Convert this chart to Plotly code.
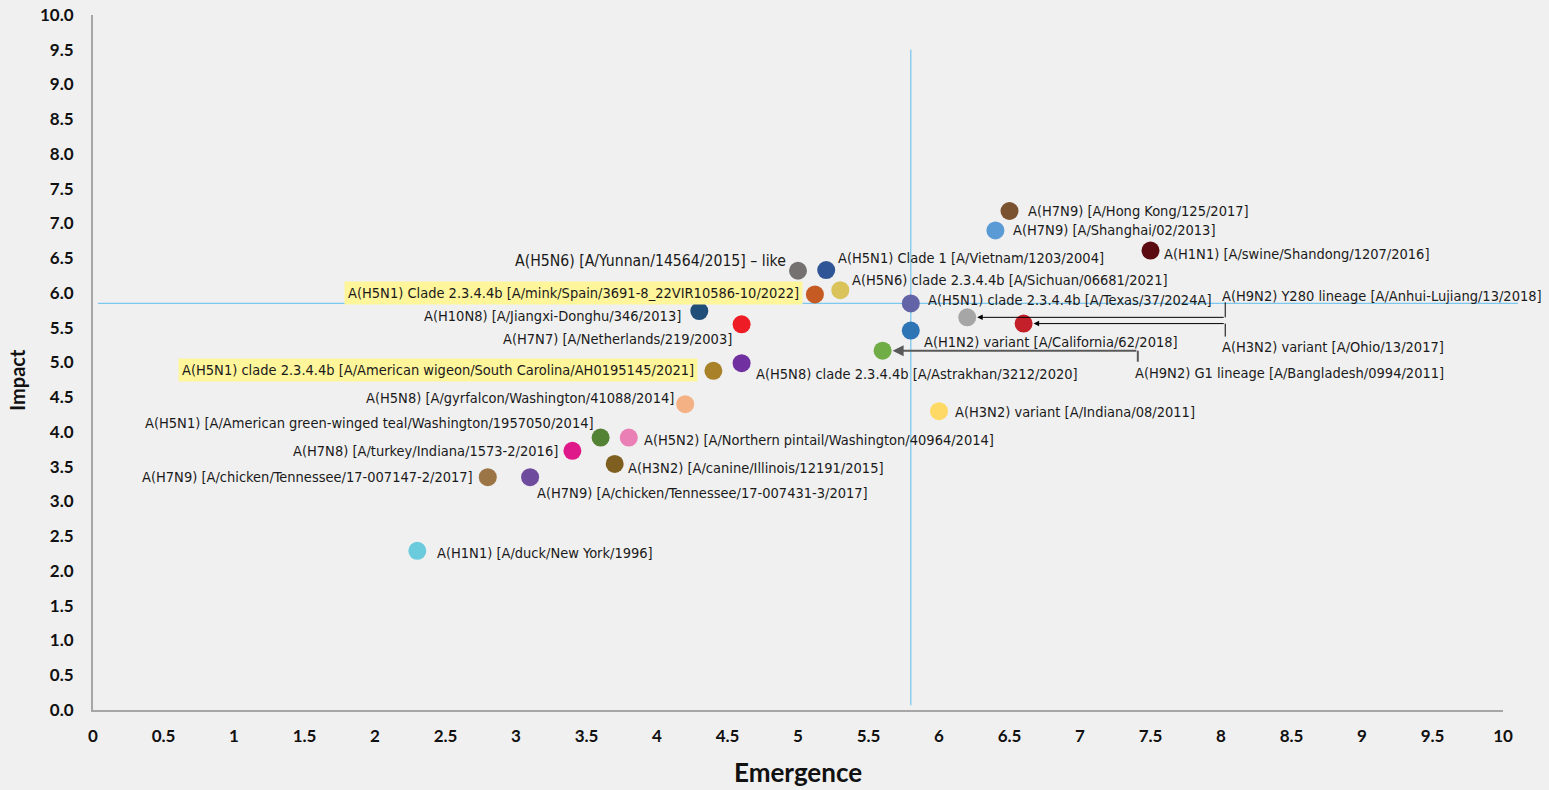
import plotly.graph_objects as go

# ---------------- data ----------------
strains = [
    "A(H7N9) [A/Hong Kong/125/2017]",
    "A(H7N9) [A/Shanghai/02/2013]",
    "A(H1N1) [A/swine/Shandong/1207/2016]",
    "A(H5N6) [A/Yunnan/14564/2015] – like",
    "A(H5N1) Clade 1 [A/Vietnam/1203/2004]",
    "A(H5N6) clade 2.3.4.4b [A/Sichuan/06681/2021]",
    "A(H5N1) Clade 2.3.4.4b [A/mink/Spain/3691-8_22VIR10586-10/2022]",
    "A(H10N8) [A/Jiangxi-Donghu/346/2013]",
    "A(H7N7) [A/Netherlands/219/2003]",
    "A(H5N1) clade 2.3.4.4b [A/Texas/37/2024A]",
    "A(H9N2) Y280 lineage [A/Anhui-Lujiang/13/2018]",
    "A(H3N2) variant [A/Ohio/13/2017]",
    "A(H1N2) variant [A/California/62/2018]",
    "A(H9N2) G1 lineage [A/Bangladesh/0994/2011]",
    "A(H5N8) clade 2.3.4.4b [A/Astrakhan/3212/2020]",
    "A(H5N1) clade 2.3.4.4b [A/American wigeon/South Carolina/AH0195145/2021]",
    "A(H5N8) [A/gyrfalcon/Washington/41088/2014]",
    "A(H3N2) variant [A/Indiana/08/2011]",
    "A(H5N1) [A/American green-winged teal/Washington/1957050/2014]",
    "A(H5N2) [A/Northern pintail/Washington/40964/2014]",
    "A(H7N8) [A/turkey/Indiana/1573-2/2016]",
    "A(H3N2) [A/canine/Illinois/12191/2015]",
    "A(H7N9) [A/chicken/Tennessee/17-007147-2/2017]",
    "A(H7N9) [A/chicken/Tennessee/17-007431-3/2017]",
    "A(H1N1) [A/duck/New York/1996]",
]
emergence = [6.5, 6.4, 7.5, 5.0, 5.2, 5.3, 5.12, 4.3, 4.6, 5.8, 6.2, 6.6, 5.8,
             5.6, 4.6, 4.4, 4.2, 6.0, 3.6, 3.8, 3.4, 3.7, 2.8, 3.1, 2.3]
impact = [7.18, 6.9, 6.61, 6.32, 6.33, 6.04, 5.98, 5.74, 5.55, 5.85, 5.65, 5.56, 5.46,
          5.17, 4.99, 4.88, 4.4, 4.3, 3.92, 3.92, 3.73, 3.54, 3.35, 3.35, 2.29]
highlighted = [False] * 6 + [True] + [False] * 8 + [True] + [False] * 9

emergence_threshold = 5.8
impact_threshold = 5.85

x_tick_values = [0, 0.5, 1, 1.5, 2, 2.5, 3, 3.5, 4, 4.5, 5, 5.5, 6, 6.5, 7, 7.5, 8, 8.5, 9, 9.5, 10]
x_tick_labels = ["0", "0.5", "1", "1.5", "2", "2.5", "3", "3.5", "4", "4.5", "5", "5.5",
                 "6", "6.5", "7", "7.5", "8", "8.5", "9", "9.5", "10"]
y_tick_values = x_tick_values
y_tick_labels = ["0.0", "0.5", "1.0", "1.5", "2.0", "2.5", "3.0", "3.5", "4.0", "4.5", "5.0",
                 "5.5", "6.0", "6.5", "7.0", "7.5", "8.0", "8.5", "9.0", "9.5", "10.0"]

# ---------------- styles ----------------
colors = ["#7b5230", "#5b9bd5", "#5c0a12", "#767171", "#2f5597", "#d9c35a", "#c55a22",
          "#1f4e79", "#ee1c25", "#6264a7", "#a6a6a6", "#c4202a", "#2e75b6", "#70ad47",
          "#7030a0", "#a98129", "#f4b183", "#ffd966", "#548235", "#e97fb5", "#e0198a",
          "#7f5f1f", "#9c7547", "#6f4b9e", "#6acbdc"]

# (xanchor, xshift px, yshift px, font scale) for each point label
label_style = [
    ("left", 16, 0, 1.0), ("left", 16, 0, 1.0), ("left", 11, -3, 1.0),
    ("right", -10, 10, 1.08), ("left", 10, 12, 1.0), ("left", 10, 10, 1.0),
    ("right", -12, 1, 1.0), ("right", -16, -5, 1.0), ("right", -8, -15, 1.0),
    ("left", 15, 3, 1.0), None, None, ("left", 11, -11, 1.0), None,
    ("left", 12, -11, 1.0), ("right", -15, 1, 1.0), ("right", -9, 6, 1.0),
    ("left", 14, -1, 1.0), ("right", -5, 15, 1.0), ("left", 13, -2, 1.0),
    ("right", -12, 0, 1.0), ("left", 11, -4, 1.0), ("right", -13, 0, 1.0),
    ("left", 5, -16, 1.0), ("left", 18, -2, 1.0),
]
# elbow connectors: index -> (elbow x in data units, vertical segment px, label yshift px, color, width)
connectors = {
    10: (8.03, 15, 21, "#000000", 1),
    11: (8.03, -13, -23, "#000000", 1),
    13: (7.41, -11, -22, "#595959", 2),
}

label_font = "DejaVu Sans Condensed, Liberation Sans Narrow, sans-serif"
label_size = 14.5
text_color = "#1a1a1a"
bold_font = "Lato, Open Sans, sans-serif"

fig = go.Figure()
fig.add_trace(go.Scatter(
    x=emergence, y=impact, mode="markers",
    marker=dict(size=18, color=colors, line=dict(width=0), opacity=1),
    text=strains, hoverinfo="text", showlegend=False,
))

annotations = []
shapes = []
for i, name in enumerate(strains):
    if i in connectors:
        ex, seg, lsh, ccol, cw = connectors[i]
        annotations.append(dict(
            x=emergence[i], y=impact[i], ax=ex, ay=impact[i], axref="x", ayref="y",
            xref="x", yref="y", text="", showarrow=True, arrowhead=2, arrowsize=1.1,
            arrowwidth=cw, arrowcolor=ccol, standoff=10,
        ))
        shapes.append(dict(
            type="line", xref="x", yref="y", ysizemode="pixel", yanchor=impact[i],
            x0=ex, x1=ex, y0=0, y1=seg, line=dict(color=ccol, width=cw),
        ))
        annotations.append(dict(
            x=ex, y=impact[i], xref="x", yref="y", text=name, showarrow=False,
            xanchor="left", yanchor="middle", xshift=-5, yshift=lsh,
            font=dict(family=label_font, size=label_size, color=text_color),
        ))
        continue
    xa, xs, ys, fs = label_style[i]
    ann = dict(
        x=emergence[i], y=impact[i], xref="x", yref="y", text=name, showarrow=False,
        xanchor=xa, yanchor="middle", xshift=xs, yshift=ys,
        font=dict(family=label_font, size=label_size * fs, color=text_color),
    )
    if highlighted[i]:
        ann.update(bgcolor="#fff59b", borderpad=3)
    annotations.append(ann)

# reference lines
shapes.append(dict(type="line", xref="x", yref="y", x0=emergence_threshold, x1=emergence_threshold,
                   y0=0.07, y1=9.5, line=dict(color="#7cc8ee", width=1.3), layer="below"))
shapes.append(dict(type="line", xref="paper", yref="y", x0=0.0035, x1=1.0106,
                   y0=impact_threshold, y1=impact_threshold,
                   line=dict(color="#7cc8ee", width=1.3), layer="below"))

# axis titles
annotations.append(dict(text="Emergence", xref="paper", yref="paper", x=0.5, y=-0.0892,
                        xanchor="center", yanchor="middle", showarrow=False,
                        font=dict(family=bold_font, size=26, color="#111111", weight="bold")))
annotations.append(dict(text="Impact", xref="paper", yref="paper", x=-0.054, y=0.475,
                        xanchor="center", yanchor="middle", showarrow=False, textangle=-90,
                        font=dict(family=bold_font, size=20, color="#111111", weight="bold")))

fig.update_layout(
    width=1549, height=790, autosize=False,
    margin=dict(l=93, r=46, t=15, b=80),
    paper_bgcolor="#f0f0f0", plot_bgcolor="#f0f0f0",
    annotations=annotations, shapes=shapes,
    xaxis=dict(range=[0, 10], tickvals=x_tick_values, ticktext=x_tick_labels,
               showline=True, linecolor="#a6a6a6", linewidth=2, showgrid=False, zeroline=False,
               ticks="outside", ticklen=10, tickcolor="rgba(0,0,0,0)", automargin=False,
               ticklabeloverflow="allow",
               tickfont=dict(family=bold_font, size=17, color="#111111", weight="bold")),
    yaxis=dict(range=[0, 10], tickvals=y_tick_values, ticktext=y_tick_labels,
               showline=True, linecolor="#a6a6a6", linewidth=2, showgrid=False, zeroline=False,
               ticks="outside", ticklen=14, tickcolor="rgba(0,0,0,0)", automargin=False,
               ticklabeloverflow="allow",
               tickfont=dict(family=bold_font, size=17, color="#111111", weight="bold")),
)

page_fix = ("document.body.style.margin='0';document.body.style.background='#f0f0f0';"
            "document.documentElement.style.overflow='hidden';")
fig.write_html("out.html", post_script=page_fix, config={"displayModeBar": False})
